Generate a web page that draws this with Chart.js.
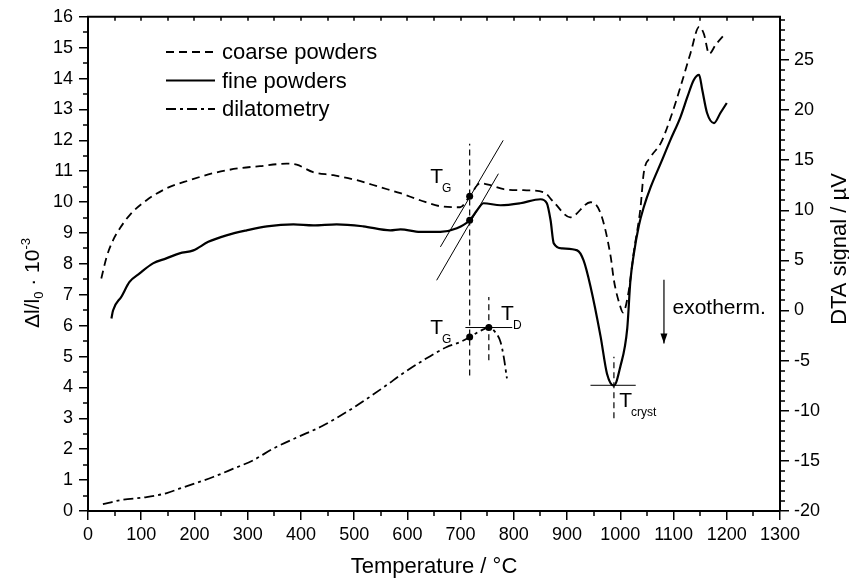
<!DOCTYPE html>
<html><head><meta charset="utf-8">
<script src="https://cdn.jsdelivr.net/npm/chart.js@4.4.1/dist/chart.umd.min.js"></script>
<style>html,body{margin:0;padding:0;background:#fff;}#wrap{width:849px;height:578px;}</style>
</head><body><div id="wrap"><canvas id="c" width="849" height="578"></canvas></div>
<script>
// ---------- data ----------
const seriesNames = ['coarse powders', 'fine powders', 'dilatometry'];

// DTA signal of coarse powders (µV, right axis)
const tempCoarse = [25,35,47,60,78,110,148,191,235,285,323,373,392,423,461,505,549,587,624,662,699,717,737,756,781,818,856,875,906,944,963,982,988,1000,1005,1016,1025,1038,1044,1057,1076,1095,1113,1132,1148,1157,1167,1179,1195];
const dtaCoarse  = [3.2,5.35,7.0,8.2,9.5,11.0,12.2,13.0,13.7,14.2,14.4,14.65,14.55,13.8,13.5,13.0,12.3,11.7,11.0,10.4,10.3,11.4,12.7,12.5,12.1,12.0,11.8,10.8,9.3,10.8,9.7,5.35,3.0,0.4,-0.2,2.0,5.7,10.3,13.7,15.3,16.7,19.3,22.3,25.7,28.3,27.6,25.6,26.5,27.5];

// DTA signal of fine powders (µV, right axis)
const tempFine = [44,47,63,78,97,122,147,172,198,226,260,298,336,386,423,467,517,568,587,624,662,693,717,731,743,775,812,850,862,869,875,891,919,931,944,963,975,988,1000,1013,1019,1025,1035,1044,1057,1076,1094,1113,1126,1138,1148,1154,1163,1176,1188,1200];
const dtaFine  = [-0.8,0.0,1.4,2.85,3.7,4.7,5.2,5.7,6.0,6.85,7.5,8.0,8.4,8.6,8.5,8.6,8.4,8.0,8.1,7.85,7.85,8.2,9.0,10.0,10.7,10.5,10.7,11.1,10.7,9.0,6.7,6.2,6.0,5.0,2.4,-2.6,-6.3,-7.5,-5.6,-1.8,3.0,5.5,8.5,10.3,12.3,14.7,17.0,19.3,21.3,23.0,23.5,22.0,19.7,18.7,19.7,20.7];

// dilatometry Δl/l0 · 10^-3 (left axis)
const tempDil = [28,60,110,148,173,204,235,273,310,348,392,440,490,517,563,587,630,674,699,717,737,753,765,775,781,787];
const dilatation = [0.22,0.35,0.45,0.58,0.73,0.91,1.10,1.37,1.64,2.02,2.38,2.75,3.25,3.55,4.1,4.4,4.88,5.31,5.47,5.63,5.83,5.94,5.79,5.47,4.99,4.29];

// axis ranges / ticks
const xRange = [0, 1300], xMajor = 100, xMinor = 50;
const yRange = [0, 16], yMajor = 1, yMinor = 0.5;
const y2Range = [-20, 29.3], y2Major = 5, y2Minor = 1;
const xTitle = 'Temperature / °C';
const y2Title = 'DTA signal / µV';

// annotation construction lines (x in °C, y in left-axis units)
const tgTemp = 717, tdTemp = 753, tcrystTemp = 988;
const tgLineY = [4.39, 11.89];
const tdLineY = [4.88, 6.93];
const tcrystLineY = [3.0, 4.99];
const tangentUpperX = [662, 780], tangentUpperY = [8.55, 12.0];
const tangentLowerX = [655, 771], tangentLowerY = [7.47, 10.92];
const tdBarX = [709, 797], tdBarY = 5.94;
const tcrystBarX = [944, 1029], tcrystBarY = 4.07;
const markerX = [717, 717, 717, 753];
const markerY = [10.19, 9.41, 5.63, 5.94];
const arrowX = 1082, arrowY = [7.49, 5.42];
// text labels: [main, subscript, x (°C), y (left units)]
const textLabels = [
  ['T', 'G', 643, 10.61],
  ['T', 'G', 643, 5.72],
  ['T', 'D', 776, 6.17],
  ['T', 'cryst', 998, 3.36]
];
const exoLabel = ['exotherm.', 1098, 6.56];

// ---------- chart ----------
const FONT = "'Liberation Sans', Arial, Helvetica, sans-serif";
const pts = (xs, ys) => xs.map((x, i) => ({x, y: ys[i]}));
const seg = (xs, ys) => [{x: xs[0], y: ys[0]}, {x: xs[1], y: ys[1]}];

const base = {pointRadius: 0, borderColor: '#000', backgroundColor: '#000', fill: false};
const datasets = [
  Object.assign({}, base, {label: seriesNames[0], data: pts(tempCoarse, dtaCoarse), yAxisID: 'y2', borderWidth: 1.8, borderDash: [8, 5], cubicInterpolationMode: 'monotone'}),
  Object.assign({}, base, {label: seriesNames[1], data: pts(tempFine, dtaFine), yAxisID: 'y2', borderWidth: 2.2, cubicInterpolationMode: 'monotone'}),
  Object.assign({}, base, {label: seriesNames[2], data: pts(tempDil, dilatation), yAxisID: 'y', borderWidth: 1.8, borderDash: [10, 4, 3, 4], cubicInterpolationMode: 'monotone'}),
  Object.assign({}, base, {label: 'tg', data: seg([tgTemp, tgTemp], tgLineY), yAxisID: 'y', borderWidth: 1.2, borderDash: [6, 4]}),
  Object.assign({}, base, {label: 'td', data: seg([tdTemp, tdTemp], tdLineY), yAxisID: 'y', borderWidth: 1.2, borderDash: [6, 4]}),
  Object.assign({}, base, {label: 'tc', data: seg([tcrystTemp, tcrystTemp], tcrystLineY), yAxisID: 'y', borderWidth: 1.2, borderDash: [6, 4]}),
  Object.assign({}, base, {label: 'tan1', data: seg(tangentUpperX, tangentUpperY), yAxisID: 'y', borderWidth: 1}),
  Object.assign({}, base, {label: 'tan2', data: seg(tangentLowerX, tangentLowerY), yAxisID: 'y', borderWidth: 1}),
  Object.assign({}, base, {label: 'tdbar', data: seg(tdBarX, [tdBarY, tdBarY]), yAxisID: 'y', borderWidth: 1}),
  Object.assign({}, base, {label: 'tcbar', data: seg(tcrystBarX, [tcrystBarY, tcrystBarY]), yAxisID: 'y', borderWidth: 1}),
  Object.assign({}, base, {label: 'arrow', data: seg([arrowX, arrowX], arrowY), yAxisID: 'y', borderWidth: 1.2}),
  Object.assign({}, base, {label: 'dots', data: pts(markerX, markerY), yAxisID: 'y', showLine: false, pointRadius: 3.5, pointBorderWidth: 0})
];

function drawSubText(ctx, x, y, main, sub, size) {
  ctx.font = size + 'px ' + FONT;
  ctx.textAlign = 'left'; ctx.textBaseline = 'alphabetic';
  ctx.fillText(main, x, y);
  const w = ctx.measureText(main).width;
  ctx.font = Math.round(size * 0.58) + 'px ' + FONT;
  ctx.fillText(sub, x + w - 1, y + 9);
}

const decor = {
  id: 'decor',
  afterDraw(chart) {
    const ctx = chart.ctx, a = chart.chartArea;
    const sx = chart.scales.x, sy = chart.scales.y, sy2 = chart.scales.y2;
    ctx.save();
    ctx.strokeStyle = '#000'; ctx.fillStyle = '#000';
    ctx.setLineDash([]);
    // minor ticks
    ctx.lineWidth = 1.5; ctx.beginPath();
    for (let i = 0; i <= (xRange[1] - xRange[0]) / xMinor; i++) {
      const v = xRange[0] + i * xMinor; if (v % xMajor === 0) continue;
      const p = Math.round(sx.getPixelForValue(v));
      ctx.moveTo(p, a.bottom); ctx.lineTo(p, a.bottom + 5);
    }
    for (let i = 0; i <= (yRange[1] - yRange[0]) / yMinor; i++) {
      const v = yRange[0] + i * yMinor; if (Math.abs(v - Math.round(v)) < 1e-6) continue;
      const p = Math.round(sy.getPixelForValue(v));
      ctx.moveTo(a.left, p); ctx.lineTo(a.left - 5, p);
    }
    for (let v = y2Range[0]; v <= y2Range[1]; v += y2Minor) {
      if (v % y2Major === 0) continue;
      const p = Math.round(sy2.getPixelForValue(v));
      ctx.moveTo(a.right, p); ctx.lineTo(a.right + 5, p);
    }
    // top frame inward ticks
    for (let i = 1; i < (xRange[1] - xRange[0]) / xMinor; i++) {
      const p = Math.round(sx.getPixelForValue(xRange[0] + i * xMinor));
      ctx.moveTo(p, a.top); ctx.lineTo(p, a.top + 4);
    }
    ctx.stroke();
    ctx.lineWidth = 2; ctx.beginPath();
    ctx.moveTo(a.left - 1, a.top); ctx.lineTo(a.right + 1, a.top); ctx.stroke();

    // legend
    const rows = [52, 80.5, 109];
    for (let i = 0; i < 3; i++) {
      const ds = chart.data.datasets[i];
      ctx.setLineDash(ds.borderDash || []);
      ctx.lineWidth = ds.borderWidth;
      ctx.beginPath(); ctx.moveTo(166, rows[i]); ctx.lineTo(215, rows[i]); ctx.stroke();
      ctx.setLineDash([]);
      ctx.font = '22px ' + FONT; ctx.textBaseline = 'middle'; ctx.textAlign = 'left';
      ctx.fillText(ds.label, 222, rows[i] + 1);
    }

    // annotation labels
    textLabels.forEach(t => {
      drawSubText(ctx, sx.getPixelForValue(t[2]), sy.getPixelForValue(t[3]), t[0], t[1], 21);
    });
    ctx.font = '21px ' + FONT; ctx.textBaseline = 'middle'; ctx.textAlign = 'left';
    ctx.fillText(exoLabel[0], sx.getPixelForValue(exoLabel[1]), sy.getPixelForValue(exoLabel[2]));
    // arrow head
    const ax = sx.getPixelForValue(arrowX), ay = sy.getPixelForValue(arrowY[1]);
    ctx.beginPath(); ctx.moveTo(ax, ay); ctx.lineTo(ax - 3.5, ay - 10); ctx.lineTo(ax + 3.5, ay - 10); ctx.closePath(); ctx.fill();

    // axis titles
    ctx.font = '22px ' + FONT; ctx.textAlign = 'center'; ctx.textBaseline = 'alphabetic';
    ctx.fillText(xTitle, (a.left + a.right) / 2, 573);
    ctx.save(); ctx.translate(846, 249); ctx.rotate(-Math.PI / 2);
    ctx.fillText(y2Title, 0, 0); ctx.restore();
    // left title with sub/superscripts
    ctx.save(); ctx.translate(38.5, 328); ctx.rotate(-Math.PI / 2);
    ctx.textAlign = 'left';
    let x = 0;
    const part = (txt, size, dy) => { ctx.font = size + 'px ' + FONT; ctx.fillText(txt, x, dy); x += ctx.measureText(txt).width; };
    part('\u0394l/l', 21, 0); part('0', 13, 4); part(' \u00b7 10', 21, 0); part('-3', 13, -9);
    ctx.restore();
    ctx.restore();
  }
};

const tickFont = {family: FONT, size: 18};
const gridCfg = {display: true, drawOnChartArea: false, drawTicks: true, tickLength: 9, color: '#000', lineWidth: 1.5};
const borderCfg = {display: true, color: '#000', width: 2};
const plain = v => String(v);

new Chart(document.getElementById('c'), {
  type: 'line',
  data: {datasets},
  plugins: [decor],
  options: {
    responsive: false, animation: false, devicePixelRatio: 1,
    layout: {padding: {top: 16, left: 0, right: 0, bottom: 0}},
    plugins: {legend: {display: false}, tooltip: {enabled: false}, title: {display: false}},
    scales: {
      x: {type: 'linear', position: 'bottom', min: xRange[0], max: xRange[1],
          ticks: {stepSize: xMajor, color: '#000', font: tickFont, padding: 4, maxRotation: 0, autoSkip: false, callback: plain},
          grid: gridCfg, border: borderCfg,
          afterFit(s) { s.height = 67; }},
      y: {type: 'linear', position: 'left', min: yRange[0], max: yRange[1],
          ticks: {stepSize: yMajor, color: '#000', font: tickFont, padding: 6, autoSkip: false, callback: plain},
          grid: gridCfg, border: borderCfg,
          afterFit(s) { s.width = 88; }},
      y2: {type: 'linear', position: 'right', min: y2Range[0], max: y2Range[1],
          ticks: {stepSize: y2Major, color: '#000', font: tickFont, padding: 5, autoSkip: false, callback: plain},
          afterBuildTicks(s) { s.ticks = s.ticks.filter(t => Math.abs(t.value % y2Major) < 1e-6); },
          grid: gridCfg, border: borderCfg,
          afterFit(s) { s.width = 69; }}
    }
  }
});
</script></body></html>
